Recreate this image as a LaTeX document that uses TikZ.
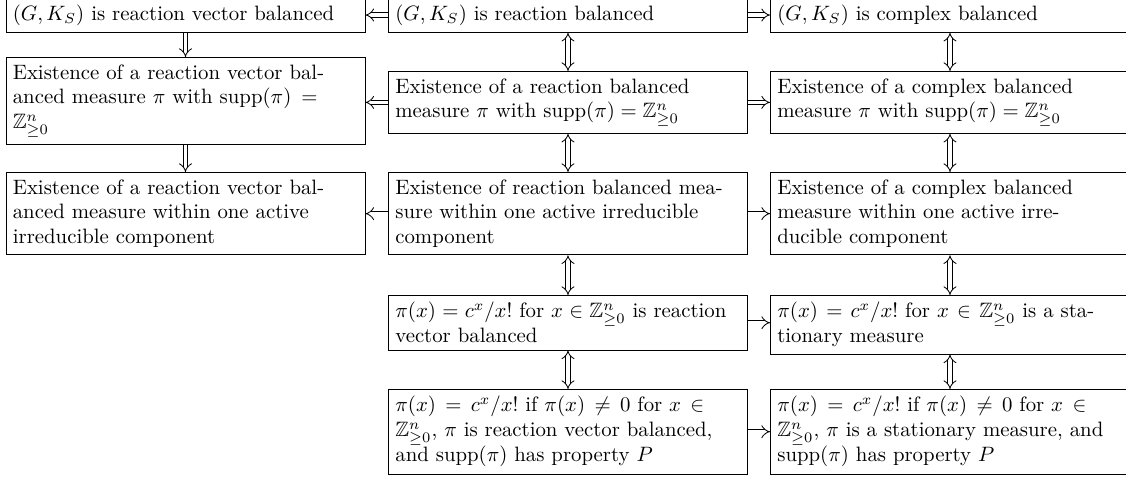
\documentclass[tikz,border=0pt]{standalone}
\usepackage{amssymb}
\usetikzlibrary{arrows}
\newcommand{\bt}[1]{\parbox[t]{161pt}{\rightskip=0pt plus 2em\spaceskip=.3333em\xspaceskip=.5em\relax #1}}
\begin{document}
\begin{tikzpicture}[x=0.4808pt,y=-0.4808pt,
  box/.style={draw, line width=0.4pt, text width=166pt, align=left, inner sep=3.333pt, anchor=north west},
  imp/.style={double, double distance=1.8pt, line width=0.4pt, -implies},
  iff/.style={double, double distance=1.8pt, line width=0.4pt, implies-implies}]
\useasboundingbox (0,0) rectangle (1126,479);
\clip (0,0) rectangle (1126,479);
% row 1
\node[box] (L1) at (5.5,-2.7) {\bt{$(G,K_S)$ is reaction vector balanced}};
\node[box] (M1) at (388,-2.7) {\bt{$(G,K_S)$ is reaction balanced}};
\node[box] (R1) at (770,-2.7) {\bt{$(G,K_S)$ is complex balanced}};
% row 2
\node[box] (L2) at (5.5,57) {\bt{Existence of a reaction vector balanced measure $\pi$ with $\mathrm{supp}(\pi) = \mathbb{Z}^n_{\geq 0}$}};
\node[box] (M2) at (388,71) {\bt{Existence of a reaction balanced measure $\pi$ with $\mathrm{supp}(\pi) = \mathbb{Z}^n_{\geq 0}$}};
\node[box] (R2) at (770,71) {\bt{Existence of a complex balanced measure $\pi$ with $\mathrm{supp}(\pi) = \mathbb{Z}^n_{\geq 0}$}};
% row 3
\node[box] (L3) at (5.5,172) {\bt{Existence of a reaction vector balanced measure within one active irreducible component}};
\node[box] (M3) at (388,172) {\bt{Existence of reaction balanced measure within one active irreducible component}};
\node[box] (R3) at (770,172) {\bt{Existence of a complex balanced measure within one active irreducible component}};
% row 4
\node[box] (M4) at (388,295) {\bt{$\pi(x) = c^x/x!$ for $x \in \mathbb{Z}^n_{\geq 0}$ is reaction vector balanced}};
\node[box] (R4) at (770,295) {\bt{$\pi(x) = c^x/x!$ for $x \in \mathbb{Z}^n_{\geq 0}$ is a stationary measure}};
% row 5
\node[box] (M5) at (388,389) {\bt{$\pi(x) = c^x/x!$ if $\pi(x) \neq 0$ for $x \in \mathbb{Z}^n_{\geq 0}$, $\pi$ is reaction vector balanced, and $\mathrm{supp}(\pi)$ has property $P$}};
\node[box] (R5) at (770,389) {\bt{$\pi(x) = c^x/x!$ if $\pi(x) \neq 0$ for $x \in \mathbb{Z}^n_{\geq 0}$, $\pi$ is a stationary measure, and $\mathrm{supp}(\pi)$ has property $P$}};
% horizontal arrows
\draw[imp] (M1.west) -- (M1.west -| L1.east);
\draw[imp] (M1.east) -- (M1.east -| R1.west);
\draw[imp] (M2.west) -- (M2.west -| L2.east);
\draw[imp] (M2.east) -- (M2.east -| R2.west);
\draw[imp] (M3.west) -- (M3.west -| L3.east);
\draw[imp] (M3.east) -- (M3.east -| R3.west);
\draw[imp] (M4.east) -- (M4.east -| R4.west);
\draw[imp] (M5.east) -- (M5.east -| R5.west);
% vertical arrows
\draw[imp] (L1.south) -- (L2.north);
\draw[imp] (L2.south) -- (L3.north);
\draw[iff] (M1.south) -- (M2.north);
\draw[iff] (M2.south) -- (M3.north);
\draw[iff] (M3.south) -- (M4.north);
\draw[iff] (M4.south) -- (M5.north);
\draw[iff] (R1.south) -- (R2.north);
\draw[iff] (R2.south) -- (R3.north);
\draw[iff] (R3.south) -- (R4.north);
\draw[iff] (R4.south) -- (R5.north);
\end{tikzpicture}
\end{document}
